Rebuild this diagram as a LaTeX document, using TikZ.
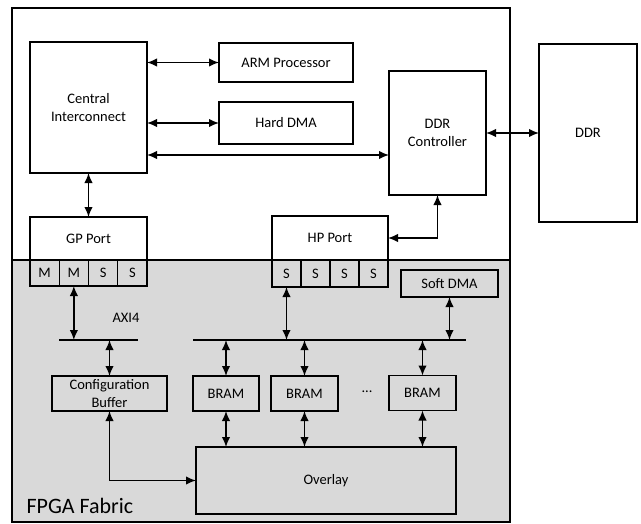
\documentclass[tikz,border=0pt]{standalone}
\usepackage{fontspec}
\setmainfont{Carlito}
\usetikzlibrary{positioning,arrows.meta}
\definecolor{fabric}{RGB}{217,217,217}

\begin{document}
\begin{tikzpicture}[x=1pt, y=-1pt, font=\fontsize{14.5}{18}\selectfont,
		blk/.style={draw, line width=1.4pt, align=center, inner sep=0pt, outer sep=0pt},
		cell/.style={blk, minimum width=29.25pt, minimum height=26pt},
		bus/.style={line width=1.4pt},
		arr/.style={{Latex[length=10pt,width=8.5pt]}-{Latex[length=10pt,width=8.5pt]}, line width=1.5pt}]
		\useasboundingbox (0,0) rectangle (641,523);
		\fill[fabric] (12,260) rectangle (510,522);
		\draw[line width=1.4pt] (12,8) rectangle (510,522);
		\draw[line width=1.4pt] (12,260) -- (510,260);

		\node [blk, minimum width=117pt, minimum height=131pt] (CI) at (88.5,107.5) {Central\\Interconnect};
		\node [blk, minimum width=134pt, minimum height=39pt] (ARM) at (286,62.5) {ARM Processor};
		\node [blk, minimum width=134pt, minimum height=42pt] (HDMA) at (286,123) {Hard DMA};
		\node [blk, minimum width=97pt, minimum height=124pt] (DDRC) at (437.5,133) {DDR\\Controller};
		\node [blk, minimum width=98pt, minimum height=178pt] (DDR) at (588,133) {DDR};

		\node [blk, minimum width=117pt, minimum height=43pt] (GP) at (88.5,238.5) {GP Port};
		\node [cell] (M1) at (44.6,273) {M};
		\node [cell, right=0pt of M1] (M2) {M};
		\node [cell, right=0pt of M2] (GS1) {S};
		\node [cell, right=0pt of GS1] (GS2) {S};

		\node [blk, minimum width=116pt, minimum height=44pt] (HP) at (330,238) {HP Port};
		\node [cell, minimum width=29pt, minimum height=27pt] (HS1) at (286.5,273.5) {S};
		\node [cell, minimum width=29pt, minimum height=27pt, right=0pt of HS1] (HS2) {S};
		\node [cell, minimum width=29pt, minimum height=27pt, right=0pt of HS2] (HS3) {S};
		\node [cell, minimum width=29pt, minimum height=27pt, right=0pt of HS3] (HS4) {S};

		\node [blk, minimum width=97pt, minimum height=27pt] (SDMA) at (449.5,283.5) {Soft DMA};

		\coordinate (AXIL) at (59,340);
		\coordinate (AXIR) at (138,340);
		\coordinate (BUSL) at (193,340);
		\coordinate (BUSR) at (466,340);
		\node (AXI) at (126,318) {AXI4};

		\node [blk, minimum width=115pt, minimum height=35pt] (CB) at (109.5,393.5) {Configuration\\Buffer};
		\node [blk, minimum width=66pt, minimum height=35pt] (BR1) at (226,393.5) {BRAM};
		\node [blk, minimum width=67pt, minimum height=35pt] (BR2) at (304.5,393.5) {BRAM};
		\node [blk, minimum width=67pt, minimum height=35pt] (BR3) at (422.5,393) {BRAM};
		\node (DOTS) at (367,392) {...};
		\node [blk, minimum width=260pt, minimum height=67pt] (OV) at (326,480.5) {Overlay};
		\node [anchor=base west, font=\fontsize{22}{26}\selectfont] (FAB) at (23,513) {FPGA Fabric};

		\draw[bus] (AXIL) -- (AXIR);
		\draw[bus] (BUSL) -- (BUSR);

		\draw[arr] (CI.east |- ARM.west) -- (ARM.west);
		\draw[arr] (CI.east |- HDMA.west) -- (HDMA.west);
		\draw[arr] ([yshift=-47.5pt]CI.east) -- ([yshift=-47.5pt]CI.east -| DDRC.west);
		\draw[arr] (DDRC.east) -- (DDR.west);
		\draw[arr] (CI.south) -- (GP.north);
		\draw[arr] (HP.east) -| (DDRC.south);
		\draw[arr] (M2.south) -- (M2.south |- AXIL);
		\draw[arr] (CB.north |- AXIL) -- (CB.north);
		\draw[arr] (CB.south) |- (OV.west);
		\draw[arr] (HS1.south) -- (HS1.south |- BUSL);
		\draw[arr] (SDMA.south) -- (SDMA.south |- BUSL);
		\draw[arr] (BR1.north |- BUSL) -- (BR1.north);
		\draw[arr] (BR2.north |- BUSL) -- (BR2.north);
		\draw[arr] (BR3.north |- BUSL) -- (BR3.north);
		\draw[arr] (BR1.south) -- (BR1.south |- OV.north);
		\draw[arr] (BR2.south) -- (BR2.south |- OV.north);
		\draw[arr] (BR3.south) -- (BR3.south |- OV.north);
	\end{tikzpicture}
\end{document}
